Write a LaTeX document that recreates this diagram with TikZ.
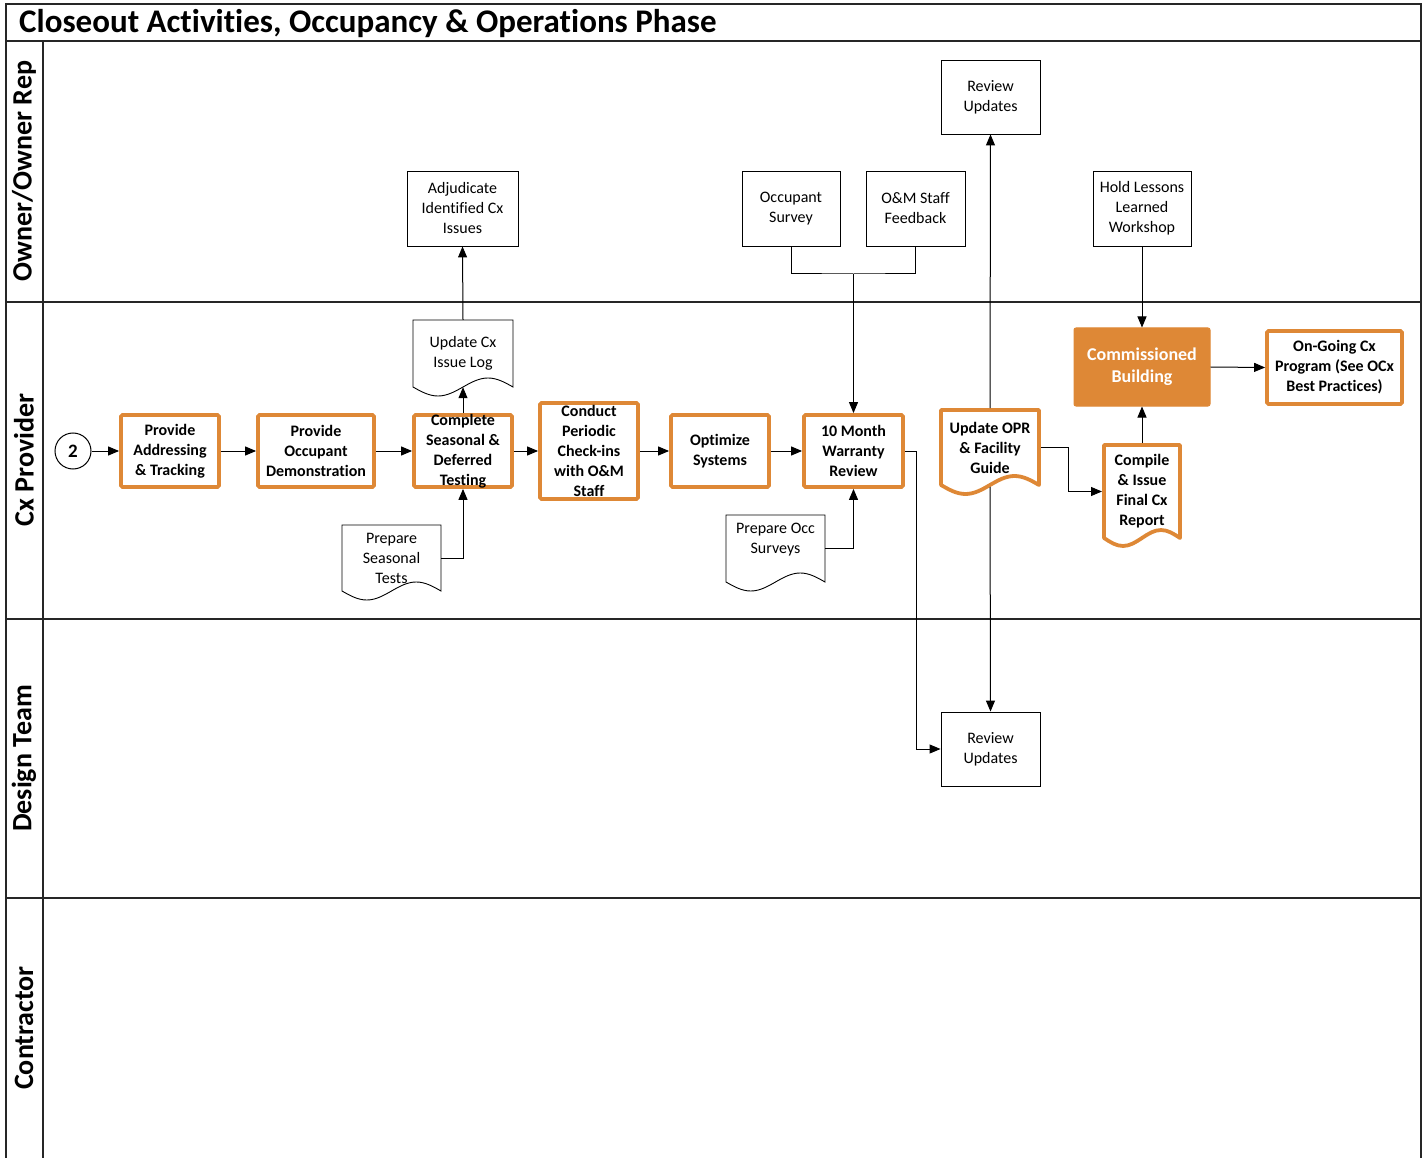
\documentclass[tikz,border=0pt]{standalone}
\usepackage{fontspec}
\setmainfont{Carlito}[Ligatures=NoCommon]
\usetikzlibrary{arrows.meta}
\definecolor{cxorange}{RGB}{222,136,54}
% document symbol: left x, top y, width, bottom y of the sides, wave amplitude
\newcommand\docshape[6]{%
  \draw[#1] (#2,#3) -- (#2,#5) sin ++(#4/4,#6) cos ++(#4/4,-#6)
    sin ++(#4/4,-#6) cos ++(#4/4,#6) -- (#2+#4,#3) -- cycle;}
\begin{document}
\begin{tikzpicture}[x=1pt,y=-1pt,
  lane/.style={draw=black!85,line width=1.2pt},
  lanelabel/.style={rotate=90,inner sep=0pt,font=\bfseries\fontsize{28}{32}\selectfont},
  txt/.style={font=\fontsize{16}{20}\selectfont,align=center,inner sep=0pt},
  btxt/.style={font=\bfseries\fontsize{16}{20}\selectfont,align=center,inner sep=0pt},
  task/.style={btxt,draw=cxorange,line width=3.8pt,rounded corners=1.5pt,
    minimum width=98pt,minimum height=72pt},
  box/.style={txt,draw=black,line width=0.9pt,minimum width=99pt,minimum height=75pt},
  doc/.style={txt,minimum height=67pt},
  odoc/.style={btxt,outer sep=2pt},
  docline/.style={draw=black,line width=0.9pt},
  odocline/.style={draw=cxorange,line width=3.8pt,line join=round},
  arr/.style={draw=black,line width=1pt,-{Triangle[length=11pt,width=9pt]}},
  link/.style={draw=black,line width=1pt}]
\useasboundingbox (0,0) rectangle (1425,1158);

% swimlane frame
\draw[lane] (6,4) rectangle (1421,1175);
\foreach \y in {41,302,619,898} \draw[lane] (6,\y) -- (1421,\y);
\draw[lane] (43,41) -- (43,1175);

\node[anchor=base west,inner sep=0pt,font=\bfseries\fontsize{33}{38}\selectfont] (title)
  at (19,33) {Closeout Activities, Occupancy \& Operations Phase};
\node[lanelabel] (l-owner) at (24,171) {Owner/Owner Rep};
\node[lanelabel] (l-cx) at (24,460) {Cx Provider};
\node[lanelabel] (l-design) at (24,758.5) {Design Team};
\node[lanelabel] (l-contr) at (24,1028) {Contractor};

% document outlines
\docshape{docline}{413}{320}{100}{387}{9}
\docshape{docline}{342}{525}{99}{591}{9}
\docshape{docline}{726}{515}{99}{582}{9}
\docshape{odocline}{941}{410}{98}{485}{9}
\docshape{odocline}{1104}{445}{76}{538}{8}

% documents
\node[doc,minimum width=100pt] (log) at (463,353.5) {Update Cx\\Issue Log};
\node[doc,minimum width=99pt,minimum height=66pt] (pst) at (391.5,558) {Prepare\\Seasonal\\Tests};
\node[doc,minimum width=99pt] (occ) at (775.5,548.5) {Prepare Occ\\Surveys\\~};
\node[odoc,minimum width=98pt,minimum height=75pt] (opr) at (990,447.5) {Update OPR\\\& Facility\\Guide};
\node[odoc,minimum width=76pt,minimum height=93pt] (cfr) at (1142,491.5) {Compile\\\& Issue\\Final Cx\\Report};

% start connector
\node[circle,draw=black,line width=1pt,minimum size=36pt,inner sep=0pt,
  font=\bfseries\fontsize{19}{22}\selectfont] (c2) at (73,451) {2};

% Cx provider tasks
\node[task] (pat) at (170,451) {Provide\\Addressing\\\& Tracking};
\node[task,minimum width=116pt] (pod) at (316,451) {Provide\\Occupant\\Demonstration};
\node[task] (csdt) at (463,451) {};
\node[btxt] (csdt-t) at (463,451) {Complete\\Seasonal \&\\Deferred\\Testing};
\node[task,minimum height=96pt] (cpc) at (589,451) {Conduct\\Periodic\\Check-ins\\with O\&M\\Staff};
\node[task] (opt) at (720,451) {Optimize\\Systems};
\node[task,minimum width=99pt] (wr) at (853.5,451) {10 Month\\Warranty\\Review};
\node[btxt,fill=cxorange,draw=cxorange,line width=1pt,rounded corners=2pt,text=white,
  minimum width=136pt,minimum height=78pt,font=\bfseries\fontsize{18}{22}\selectfont]
  (cb) at (1142,367) {Commissioned\\Building};
\node[task,minimum width=135pt,minimum height=73pt] (ocx) at (1334.5,367.5)
  {On-Going Cx\\Program (See OCx\\Best Practices)};

% other parties
\node[box,minimum width=111pt] (adj) at (462.5,208.5) {Adjudicate\\Identified Cx\\Issues};
\node[box,minimum width=98pt] (os) at (791,208.5) {Occupant\\Survey};
\node[box] (om) at (915.5,208.5) {O\&M Staff\\Feedback};
\node[box,minimum height=74pt] (rut) at (990.5,97) {Review\\Updates};
\node[box,minimum width=98pt] (hll) at (1142,208.5) {Hold Lessons\\Learned\\Workshop};
\node[box,minimum height=74pt] (rub) at (990.5,749) {Review\\Updates};

% flow
\draw[arr] (c2) -- (pat);
\draw[arr] (pat) -- (pod);
\draw[arr] (pod) -- (csdt);
\draw[arr] (csdt) -- (cpc);
\draw[arr] (cpc) -- (opt);
\draw[arr] (opt) -- (wr);
\draw[arr] (csdt.north) -- (log.south);
\draw[arr] (log.north) -- (adj.south);
\draw[arr] (pst.east) -| (csdt.south);
\draw[arr] (occ.east) -| (wr.south);
\coordinate (j) at (853.5,274);
\draw[link] (os.south) |- (j) -| (om.south);
\draw[arr] (j) -- (wr.north);
\draw[arr] (wr.east) -- ++(12,0) |- (rub.west);
\draw[arr] (opr.north) -- (rut.south);
\draw[arr] (opr.south) -- (rub.north);
\draw[arr] (opr.east) -- ++(27,0) |- (cfr.west);
\draw[arr] (cfr.north) -- (cb.south);
\draw[arr] (hll.south) -- (cb.north);
\draw[arr] (cb.east) -- (ocx.west);
\end{tikzpicture}
\end{document}
